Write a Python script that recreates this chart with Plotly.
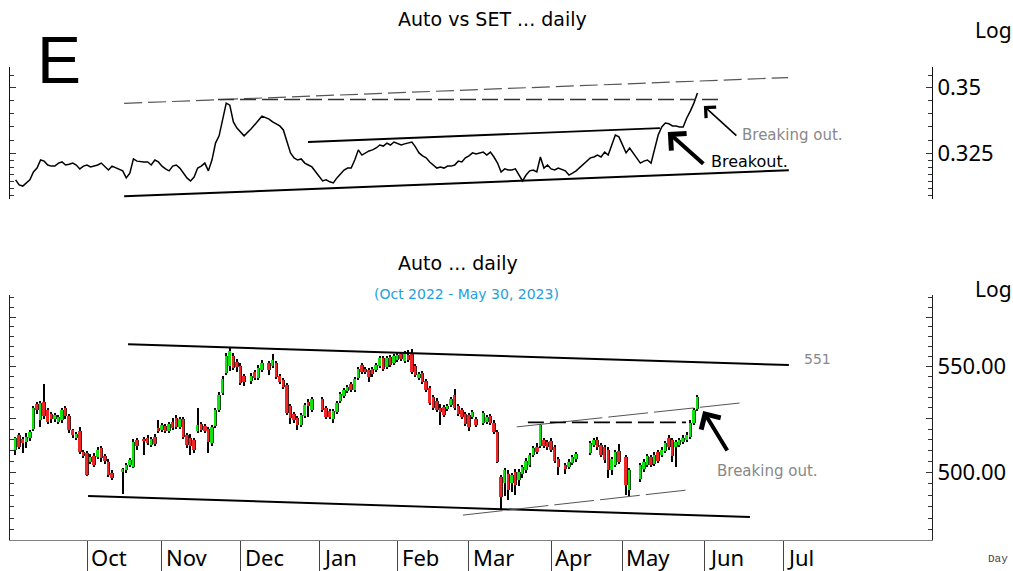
import numpy as np
import pandas as pd
import plotly.graph_objects as go

# ---------------- data ----------------
AXIS_START = "2022-09-01"
dates = pd.bdate_range("2022-09-05", "2023-05-30")
month_starts = pd.date_range("2022-10-01", "2023-07-01", freq="MS")
month_labels = ["Oct", "Nov", "Dec", "Jan", "Feb", "Mar", "Apr", "May", "Jun", "Jul"]

# Auto / SET relative strength (top panel)
ratio = [
    0.3156, 0.3138, 0.3134, 0.3145, 0.3156, 0.3184, 0.3198, 0.3227, 0.3223, 0.3209,
    0.3205, 0.3205, 0.3216, 0.3220, 0.3209, 0.3212, 0.3216, 0.3209, 0.3195, 0.3205,
    0.3209, 0.3202, 0.3205, 0.3209, 0.3216, 0.3205, 0.3191, 0.3205, None, None,
    0.3188, 0.3163, 0.3180, 0.3231, 0.3223, None, 0.3220, 0.3220, 0.3209, 0.3227, 0.3220,
    0.3205, 0.3195, 0.3188, 0.3205, 0.3209, 0.3198, 0.3180, 0.3163, 0.3152, 0.3166,
    0.3198, 0.3205, 0.3216, 0.3188, 0.3227, 0.3289, 0.3316, 0.3375, 0.3440, 0.3432, 0.3368, 0.3345,
    0.3330, 0.3316, None, 0.3342, 0.3357, 0.3375, 0.3390, None, 0.3379, 0.3368, 0.3361,
    0.3353, 0.3338, 0.3293, 0.3253, 0.3235, 0.3227, 0.3231, 0.3216, 0.3209, 0.3202, None,
    None, 0.3152, 0.3156, 0.3149, 0.3145, 0.3163, 0.3177, 0.3191, 0.3198, 0.3198, 0.3227,
    0.3264, 0.3245, 0.3253, 0.3260, 0.3264, 0.3271, 0.3282, 0.3278, 0.3289, 0.3282, 0.3293,
    0.3286, 0.3282, 0.3286, 0.3289, 0.3293, 0.3275, 0.3253, 0.3242, 0.3235, 0.3220,
    0.3209, 0.3198, 0.3202, 0.3198, 0.3205, 0.3205, 0.3209, 0.3223, 0.3220, 0.3235,
    0.3242, 0.3253, 0.3249, None, 0.3256, 0.3245, 0.3256, 0.3238, 0.3216, 0.3184, 0.3195, 0.3191,
    0.3191, 0.3195, 0.3173, 0.3152, 0.3173, 0.3188, 0.3191, 0.3184, 0.3238, 0.3198, 0.3209,
    0.3195, 0.3191, 0.3198, None, 0.3188, 0.3173, 0.3180, 0.3188, None, None,
    None, 0.3235, 0.3238, 0.3245, 0.3238, 0.3256, 0.3245, 0.3282, 0.3319, 0.3312,
    None, 0.3253, 0.3271, None, None, 0.3216, 0.3223, 0.3227, 0.3216, 0.3271, 0.3319,
    0.3349, 0.3364, 0.3361, 0.3353, 0.3353, 0.3349, 0.3349, 0.3383, 0.3409, 0.3440, 0.3479,
]

# Auto index daily candles (bottom panel)
opens = [
    510.3, 517.3, 515.5, 514, 516, 520, 532, 524, 533, 529, 527, 524.5, 523.5, 524.3, 530, 526, 519.6, 516, 519, 509.5,
    509, 505, 507.5, 507, 511, 507.5, 505, 500, None, None, 500.5, 501, 503.5, 502.5, 515, None, 515.5, 516, 512.5, 516.5, 520.5,
    519.6, 521.5, 519, 523.5, 525, 521, 524.5, 517, 516, 515, 519, 522.5, 521.5, 520, 513.5, 521.5, 529, 537, 547, 550.5, 555.5, 552.5,
    550.5, 545.5, None, 543, 547.5, 544.5, 548.5, None, 552, 550.5, 552, 545.5, 543.5, 541, 531, 527, 525, 522, 526, 533, 529, None,
    None, 534, 530, 528.5, 524.5, 528, 533.5, 535.5, 538, 541.5, 538.5, 544.5, 551, 549, 548.5, 549, 548.5, 550.5, 554.5, 550, 555, 552,
    553.5, 556.5, 553, 556, 556.5, 550.5, 544.5, 547, 543, 539.5, 535, 533.5, 530, 530.5, 529.5, 531.5, 536, 531, 529, 527,
    526.5, 525.5, 524.5, None, 523, 523.5, 526, 523, 518.5, 498, 495.5, 499.5, 495.5, 500.5, 496.5, 499.5, 501, 503.5, 508, 511.5, 512, 515, 514,
    514.5, 511.5, 506, None, 503.5, 502.5, 504.5, 506, None, None, None, 509, 512.5, 515, 512.5, 511.5, 510.3, 501, 503.5, 510,
    None, 507, 492.5, None, None, 497, 501.5, 503.5, 507, 504, 509.5, 508, 510, 516, 515, 511.5, 512.5, 514, 515, 516.5, 523, 529.5,
]
highs = [
    516.5, 518.2, 516.5, 518, 519.5, 531, 533, 533.5, 541.5, 530, 528, 527.5, 526.5, 530, 531, 527, 520, 518.5, 521, 510.5,
    510, 508.5, 509, 511.5, 512, 508.5, 506, 501, None, None, 502, 504.5, 506.5, 515.5, 516, None, 516.5, 517, 516.5, 517.5, 524,
    523, 522.5, 523.5, 525, 526.5, 525.5, 525.5, 518, 517.5, 516, 530, 523.5, 522.5, 521, 522, 530, 537.5, 545.5, 557, 559.5, 557, 554,
    552, 546.5, None, 547, 548.5, 551, 553.5, None, 553, 556.5, 553, 546.5, 544.5, 542, 532, 528, 526, 527.5, 532.5, 534, 535, None,
    None, 535, 531, 529.5, 529.5, 533.5, 537.5, 539.5, 541, 542.5, 545, 550, 552, 550, 549.5, 550, 552, 555.5, 555.5, 555.5, 556, 556.5,
    557.5, 557.5, 558, 558.5, 559, 551.5, 547.5, 548, 544, 540.5, 536, 534.5, 532, 531.5, 532, 535, 539, 532, 530, 528,
    527.5, 529, 525.5, None, 528.5, 526.5, 527, 524, 519.5, 499, 502, 501, 500, 501.5, 501.5, 503.5, 506.5, 509, 512, 513.5, 522.5, 516, 515,
    516, 512.5, 507, None, 504.5, 506, 508, 509.5, None, None, None, 514.5, 516, 516.5, 513.5, 512.5, 511.5, 507, 510.5, 513,
    None, 508, 502, None, None, 504.5, 506, 508.5, 508, 509.5, 510.5, 511.5, 514.5, 517, 516, 515, 516, 517, 518.5, 524, 530, 536,
]
lows = [
    508, 510.8, 509, 511, 514.5, 519, 527, 521, 524.5, 522.5, 523, 523.5, 522.5, 523, 524.5, 518, 516, 515, 508.5, 506.5,
    498.5, 504, 502.5, 506, 505, 504, 498, 496.5, None, None, 490.5, 500, 502.5, 502, 510.5, None, 508, 512.5, 511.5, 512, 518,
    518.5, 518, 518, 519.5, 520, 520, 515.5, 511, 508, 509, 518, 518.5, 518, 509, 512, 520.5, 528, 536, 546, 548, 548.5, 547.5,
    541, 540.5, None, 541.5, 543.5, 543.5, 547.5, None, 546, 549.5, 544, 541.5, 539, 526.5, 522.5, 523, 519.5, 521, 525, 525.5, 528, None,
    None, 528, 524.5, 524.5, 523, 527, 532.5, 534.5, 537, 537.5, 537.5, 543.5, 546.5, 546.5, 542.5, 545, 547.5, 549.5, 548, 549, 550, 551,
    552.5, 553, 552, 552.5, 546.5, 545, 543.5, 541.5, 537.5, 531.5, 529, 528, 522, 525.5, 528.5, 530.5, 529, 526, 524.5, 521.5,
    519, 524.5, 521, None, 522, 522.5, 522, 517.5, 504.5, 483.5, 489.5, 488, 491.5, 490, 494, 497.5, 500, 502.5, 507, 508.5, 511, 511, 510.5,
    509.5, 504.5, 499, None, 499.5, 501.5, 503.5, 505, None, None, None, 508, 511.5, 510.5, 507, 504.5, 497.5, 499, 502.5, 504,
    None, 490, 489.5, None, None, 496, 500.5, 502.5, 502.5, 503, 504.5, 507, 509, 510.5, 505, 502.5, 511.5, 513, 514, 515.5, 522, 528.5,
]
closes = [
    516, 511.7, 513.5, 516.5, 518.5, 530, 529, 532.5, 526, 523.5, 524.5, 526.5, 525.5, 529, 526, 519.6, 517.3, 517.5, 509.5, 507.5,
    499, 507.3, 503.5, 510.3, 506.5, 505.5, 499, 497.5, None, None, 501.5, 503.5, 505.7, 514, 512, None, 514.5, 513.5, 515.5, 513, 519,
    521.9, 519, 522.5, 520.5, 521, 524.5, 516.5, 512.5, 512, 510.5, 522, 519.5, 519, 514, 521, 529, 536.2, 544, 555.5, 558, 549.5, 550,
    542, 542.5, None, 545.5, 544.5, 549.5, 552, None, 548.5, 553.3, 545, 542.5, 540, 527.5, 525, 524, 522, 526.5, 531.5, 531, 534, None,
    None, 529, 525.5, 525.5, 528.5, 532.5, 536.5, 538.5, 540, 538.5, 544, 549, 547.5, 547.5, 545, 546.5, 551, 554.5, 549, 554.5, 551, 555.5,
    556, 554, 556.5, 553.5, 547.5, 546, 546.5, 542.5, 538.5, 532.5, 530, 529, 528, 526.5, 531, 534, 530, 527, 525.5, 522.5,
    521, 528, 522, None, 527.5, 525.5, 523, 518.5, 505, 489, 501, 492.5, 499, 494.5, 500.5, 502.5, 505.5, 508, 511, 509.5, 522, 512, 511.5,
    510.5, 505.5, 502.5, None, 501.5, 505, 507, 508.5, None, None, None, 513.5, 515, 511.5, 508, 505.7, 501, 506, 509.5, 505,
    None, 494.5, 501, None, None, 503.5, 505, 507.5, 503.5, 508, 505.5, 510.5, 513.5, 511.5, 507.5, 514, 515, 516, 517.3, 523, 529, 535,
]

# trend lines: (start pos, start value, end pos, end value)
top_lines = [
    (32.4, 0.3439, 218.4, 0.3540),   # upper rising (dashed)
    (58.7, 0.3454, 199.9, 0.3454),   # horizontal resistance (dashed)
    (83.9, 0.3293, 182.5, 0.3345),   # channel top
    (32.4, 0.3098, 218.6, 0.3190),   # support
]
bottom_lines = [
    (33.5, 561.2, 218.6, 550.8),     # resistance 551
    (22.3, 489.6, 207.7, 480.5),     # long-term support
    (127.3, 481.3, 190.3, 492.3),    # rising lows
    (142.4, 521.0, 204.9, 532.3),    # rising highs
    (145.5, 523.1, 189.8, 523.1),    # horizontal neckline
]

assert len(ratio) == len(dates) == len(opens) == len(highs) == len(lows) == len(closes)

# ---------------- positions on a trading-day axis ----------------
start = pd.Timestamp(AXIS_START).date()


def tpos(ts):
    return int(np.busday_count(start, pd.Timestamp(ts).date()))


x = [tpos(t) for t in dates]
mx = [tpos(t) for t in month_starts]

GREEN = "#10E410"
RED = "#EE2626"

fig = go.Figure()

# ---- top: ratio line ----
fig.add_trace(go.Scatter(x=x, y=ratio, mode="lines", connectgaps=True,
                         line=dict(color="black", width=1.5),
                         xaxis="x2", yaxis="y2", hoverinfo="skip"))

top_styles = [
    dict(color="#555555", width=1.2, dash="18px,6px"),
    dict(color="#333333", width=1.3, dash="16px,6px"),
    dict(color="black", width=1.8, dash="solid"),
    dict(color="black", width=2.0, dash="solid"),
]
for (a, va, b, vb), st in zip(top_lines, top_styles):
    fig.add_trace(go.Scatter(x=[a, b], y=[va, vb], mode="lines", line=st,
                             xaxis="x2", yaxis="y2", hoverinfo="skip"))

# ---- bottom: candles (wick bars under body bars, dark right edge) ----
cx, wbase, wlen, bbase, blen, bcol = [], [], [], [], [], []
for xi, o, h, l, c in zip(x, opens, highs, lows, closes):
    if o is None:
        continue
    cx.append(xi)
    wbase.append(l)
    wlen.append(h - l)
    bbase.append(min(o, c))
    blen.append(max(abs(c - o), 0.5))
    bcol.append(GREEN if c >= o else RED)

fig.add_trace(go.Bar(x=cx, y=wlen, base=wbase, width=0.36,
                     marker=dict(color="black", line=dict(width=0)),
                     xaxis="x", yaxis="y", hoverinfo="skip"))
fig.add_trace(go.Bar(x=cx, y=blen, base=bbase, width=0.95,
                     marker=dict(color=bcol, line=dict(width=0)),
                     xaxis="x", yaxis="y", hoverinfo="skip"))
fig.add_trace(go.Bar(x=cx, y=blen, base=bbase, width=0.25, offset=0.22,
                     marker=dict(color="rgba(20,20,20,0.75)", line=dict(width=0)),
                     xaxis="x", yaxis="y", hoverinfo="skip"))

bottom_styles = [
    dict(color="black", width=2.0, dash="solid"),
    dict(color="black", width=2.0, dash="solid"),
    dict(color="#555555", width=1.0, dash="40px,6px"),
    dict(color="#555555", width=1.0, dash="40px,6px"),
    dict(color="black", width=1.8, dash="16px,6px"),
]
for (a, va, b, vb), st in zip(bottom_lines, bottom_styles):
    fig.add_trace(go.Scatter(x=[a, b], y=[va, vb], mode="lines", line=st,
                             xaxis="x", yaxis="y", hoverinfo="skip"))

# ---------------- layout ----------------
XR = [0.43, 258.7]
TICKFONT = dict(family="Noto Sans", size=22, color="black")

bot_minor = [v for v in range(475, 590, 5) if v not in (500, 525, 550, 575)]
top_minor = [0.31, 0.3125, 0.315, 0.3175, 0.32, 0.3225, 0.33, 0.335, 0.34, 0.345, 0.355]

fig.update_layout(
    width=1013, height=571,
    margin=dict(l=10, r=81, t=0, b=31),
    paper_bgcolor="white", plot_bgcolor="white",
    showlegend=False, barmode="overlay", bargap=0,
    xaxis=dict(domain=[0, 1], range=XR, anchor="y", showgrid=False, zeroline=False,
               showline=True, linecolor="#808080", linewidth=1,
               ticks="outside", ticklen=31, tickwidth=1, tickcolor="#444444",
               tickmode="array", tickvals=mx, showticklabels=False),
    yaxis=dict(domain=[0, 0.4537], type="log", range=[2.6727, 2.7683], anchor="x",
               side="right", showgrid=False, zeroline=False,
               showline=True, linecolor="#222222", linewidth=1, mirror="ticks",
               ticks="inside", ticklen=6, tickcolor="#333333",
               tickmode="array", tickvals=[500, 525, 550, 575],
               ticktext=["500.00", "", "550.00", ""], tickfont=TICKFONT,
               minor=dict(tickmode="array", tickvals=bot_minor, ticks="inside",
                          ticklen=4, tickcolor="#333333")),
    xaxis2=dict(domain=[0, 1], range=XR, anchor="y2", visible=False),
    yaxis2=dict(domain=[0.6315, 0.8759], type="log", range=[-0.5102, -0.44584], anchor="x2",
                side="right", showgrid=False, zeroline=False,
                showline=True, linecolor="#111111", linewidth=1, mirror="ticks",
                ticks="inside", ticklen=6, tickcolor="#333333",
                tickmode="array", tickvals=[0.325, 0.35], ticktext=["0.325", "0.35"],
                tickfont=TICKFONT,
                minor=dict(tickmode="array", tickvals=top_minor, ticks="inside",
                           ticklen=4, tickcolor="#333333")),
)


def P(px, py):
    return (px - 10) / 922.0, (540 - py) / 540.0


ann = []


def text(px, py, s, size, color="black", family="DejaVu Sans", xanchor="left"):
    xx, yy = P(px, py)
    ann.append(dict(x=xx, y=yy, xref="paper", yref="paper", text=s, showarrow=False,
                    xanchor=xanchor, yanchor="middle",
                    font=dict(family=family, size=size, color=color)))


text(59, 60, "E", 66, family="Liberation Sans", xanchor="center")
text(492, 19, "Auto vs SET ... daily", 19, xanchor="center")
text(458, 263, "Auto ... daily", 19, xanchor="center")
text(466, 294, "(Oct 2022 - May 30, 2023)", 14, color="#22A0E0", xanchor="center")
text(973, 30, "Log", 21, family="Noto Sans")
text(973, 289, "Log", 21, family="Noto Sans")
text(986, 559, "Day", 11, color="#444444", family="Liberation Mono")
text(740, 135, "Breaking out.", 15, color="#888888")
text(709, 161, "Breakout.", 16)
text(802, 359, "551", 14, color="#888888")
text(715, 471, "Breaking out.", 15, color="#888888")

for m, lab in zip(mx, month_labels):
    ann.append(dict(x=m, y=(540 - 557) / 540.0, xref="x", yref="paper", text=lab,
                    showarrow=False, xanchor="left", yanchor="middle", xshift=2,
                    font=dict(family="Noto Sans", size=22, color="black")))

# arrows (head positions in data space)
ann.append(dict(x=184.7, y=float(np.log10(0.3330)), xref="x2", yref="y2", text="",
                showarrow=True, ax=37, ay=33, arrowhead=4, arrowsize=1.1,
                arrowwidth=4, arrowcolor="black"))
ann.append(dict(x=194.8, y=float(np.log10(0.3429)), xref="x2", yref="y2", text="",
                showarrow=True, ax=34, ay=31, arrowhead=4, arrowsize=1.8,
                arrowwidth=1.6, arrowcolor="black"))
ann.append(dict(x=194.6, y=float(np.log10(528.5)), xref="x", yref="y", text="",
                showarrow=True, ax=25, ay=41, arrowhead=4, arrowsize=1.1,
                arrowwidth=4, arrowcolor="black"))

fig.update_layout(annotations=ann)

fig.write_html("out.html",
               config={"displayModeBar": False},
               post_script="document.body.style.margin='0';document.body.style.overflow='hidden';")
